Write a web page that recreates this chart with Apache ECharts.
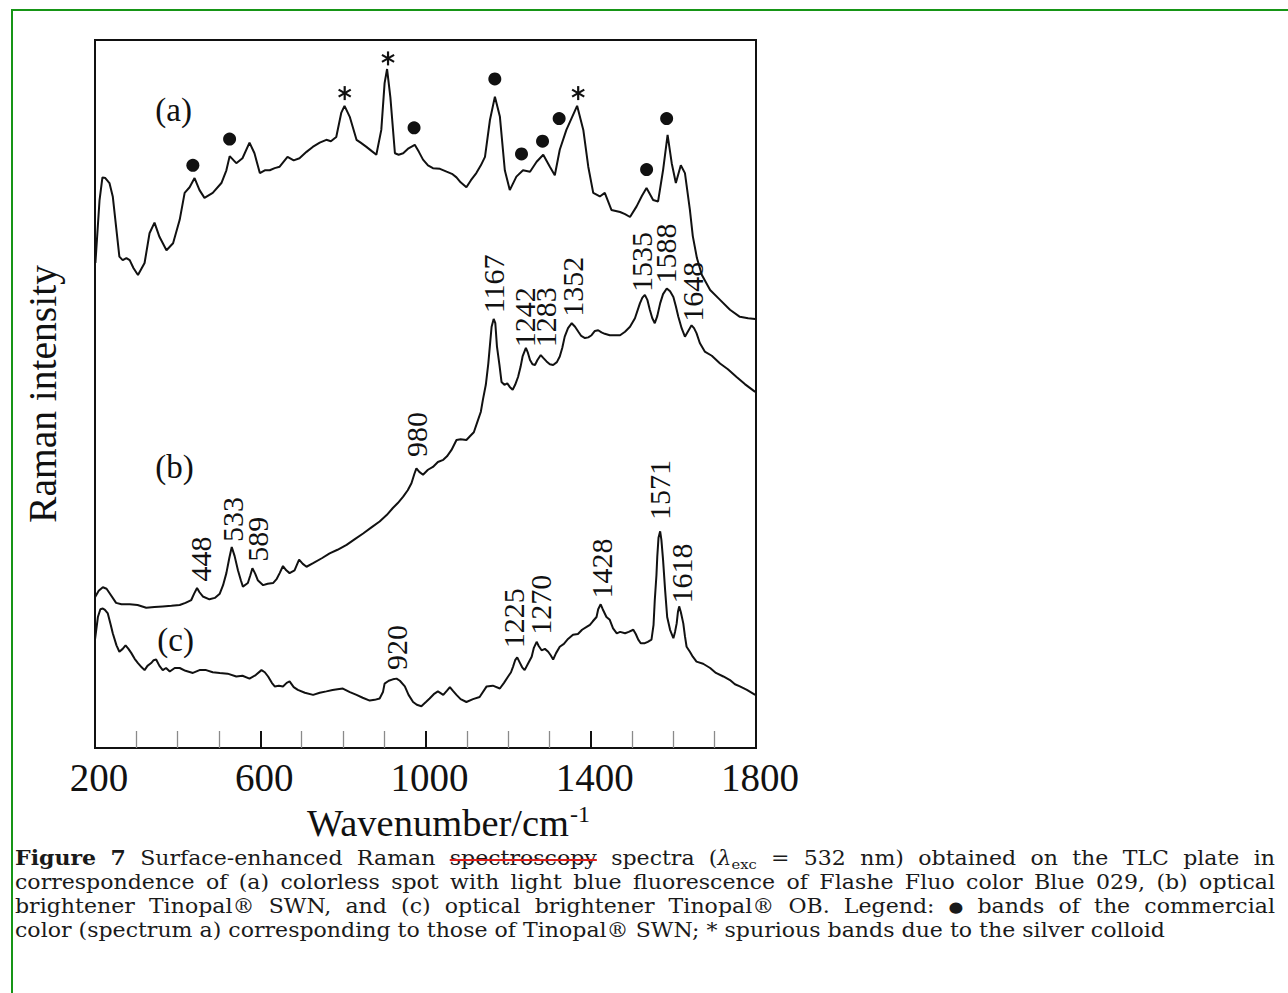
<!DOCTYPE html>
<html><head><meta charset="utf-8">
<script src="https://cdn.jsdelivr.net/npm/echarts@6/dist/echarts.min.js"></script>
<style>html,body{margin:0;padding:0;background:#fff}#c{width:1288px;height:993px}</style>
</head><body><div id="c"></div>
<script>
// ---------------- DATA ----------------
const xTicks = [200, 600, 1000, 1400, 1800];

// Spectrum (a): Flashe Fluo color Blue 029
const wnA = [201,211,218,225,235,243,259,267,276,284,293,304,320,332,344,356,373,389,405,417,429,441,453,465,485,506,518,526,542,557,574,586,599,611,623,635,647,666,681,695,712,727,744,760,771,784,796,804,817,833,843,857,870,881,893,901,907,915,926,935,946,959,974,984,994,1006,1018,1035,1051,1064,1075,1085,1099,1110,1123,1134,1144,1156,1168,1180,1192,1204,1220,1236,1253,1269,1285,1301,1313,1325,1341,1354,1367,1382,1394,1406,1422,1434,1450,1471,1483,1495,1511,1524,1535,1551,1563,1575,1586,1596,1606,1618,1628,1640,1647,1657,1669,1689,1713,1737,1761,1781,1798];
const intA = [68.5,77.4,80.6,80.5,79.8,77.9,69.4,68.9,69.2,68.9,67.8,66.8,68.5,72.7,74.2,72.2,70.3,71.3,74.6,78.4,79.2,80.5,78.8,77.7,78.4,79.8,81.6,83.6,82.6,83.3,85.5,84.0,81.2,81.6,81.6,81.9,82.1,83.5,83.0,83.3,84.2,84.9,85.5,85.9,85.7,86.3,89.7,90.7,89.1,85.9,85.5,84.9,84.3,83.8,87.3,93.9,95.9,91.9,84.0,83.8,84.0,84.7,85.2,84.2,83.1,82.3,81.9,81.8,81.4,81.1,80.6,79.9,79.2,80.2,81.2,82.3,83.5,88.7,92.0,89.2,81.6,78.8,80.7,81.6,81.4,82.8,83.8,82.1,80.9,84.5,87.3,89.0,90.7,87.3,82.1,78.4,77.9,78.4,76.0,75.7,75.4,75.0,76.5,78.0,79.1,77.4,77.2,81.6,86.6,82.6,79.8,82.3,81.2,76.0,72.3,69.2,66.8,64.7,63.3,61.9,60.9,60.7,60.6];

// Spectrum (b): Tinopal SWN
const wnB = [200,209,219,228,235,251,264,284,303,324,344,364,385,405,419,433,440,447,453,461,477,490,502,510,518,525,531,538,546,553,558,570,576,581,588,594,607,618,631,640,647,655,663,671,683,694,703,712,728,749,768,787,809,829,849,870,889,906,921,933,946,957,966,973,978,985,994,1006,1018,1030,1043,1052,1063,1075,1085,1099,1107,1117,1127,1134,1139,1146,1152,1156,1160,1165,1169,1173,1179,1184,1191,1198,1204,1211,1217,1224,1230,1235,1243,1248,1253,1259,1265,1271,1279,1285,1293,1301,1309,1318,1325,1331,1337,1345,1354,1362,1370,1377,1386,1394,1402,1410,1418,1426,1434,1446,1458,1471,1483,1495,1507,1519,1525,1531,1537,1543,1549,1555,1561,1568,1575,1584,1592,1600,1606,1612,1620,1628,1637,1644,1650,1656,1664,1676,1693,1713,1732,1753,1773,1798];
const intB = [21.3,22.2,22.7,22.5,21.9,20.5,20.3,20.3,20.2,19.8,19.9,20.0,20.1,20.2,20.5,20.9,21.8,22.6,22.0,21.4,21.0,21.2,21.8,23.0,24.7,26.8,28.4,27.1,25.1,23.7,22.8,23.3,24.4,25.4,24.6,23.7,23.0,23.2,23.3,23.9,24.7,25.7,25.1,24.7,25.1,26.6,26.0,25.6,26.1,26.8,27.5,28.0,28.7,29.5,30.3,31.2,32.0,32.9,33.9,34.6,35.5,36.4,37.4,38.7,39.5,39.0,38.6,39.3,39.7,40.4,40.7,41.2,42.1,43.5,43.6,43.5,44.0,44.6,46.3,47.5,49.2,51.3,54.3,56.9,59.5,60.6,60.0,56.7,54.1,51.7,51.3,51.5,51.0,50.6,51.3,52.4,53.8,55.3,56.5,55.8,54.8,54.2,54.1,54.8,55.5,55.1,54.6,54.2,54.1,54.5,55.3,56.5,58.1,59.3,60.0,59.5,58.8,58.2,57.9,58.0,58.3,58.9,59.0,58.7,58.5,58.3,58.3,58.3,58.8,59.5,60.7,62.8,63.6,64.0,63.3,61.9,60.7,60.0,61.0,62.8,64.1,64.9,64.5,63.7,62.4,60.9,59.3,58.1,59.0,59.7,59.3,58.6,57.2,56.0,55.4,54.3,53.5,52.4,51.4,50.3];

// Spectrum (c): Tinopal OB
const wnC = [200,207,213,219,224,231,238,243,252,259,267,274,281,288,296,304,313,320,327,336,342,348,356,364,372,381,393,405,419,437,453,469,485,502,521,542,557,574,589,603,611,619,628,635,645,655,664,671,681,691,708,728,744,760,775,787,800,817,833,848,865,877,889,897,901,911,921,930,938,950,959,970,979,990,1001,1010,1020,1030,1043,1052,1059,1066,1075,1085,1099,1115,1131,1148,1163,1180,1190,1200,1207,1212,1217,1222,1228,1234,1240,1248,1257,1262,1269,1274,1281,1289,1297,1303,1309,1316,1325,1335,1345,1357,1369,1379,1390,1398,1405,1414,1418,1424,1429,1438,1446,1454,1463,1471,1483,1492,1503,1509,1515,1521,1531,1538,1547,1552,1555,1559,1561,1564,1568,1571,1575,1580,1585,1592,1600,1604,1608,1611,1614,1618,1624,1628,1632,1640,1647,1656,1672,1689,1703,1721,1737,1749,1761,1778,1798];
const intC = [15.3,18.5,19.6,19.7,19.5,19.0,17.4,16.2,14.5,13.6,14.0,14.5,14.0,13.4,12.6,12.0,11.4,11.0,11.6,12.0,12.4,12.5,11.6,11.0,11.3,10.8,11.3,11.3,10.9,10.6,11.0,11.0,10.7,10.6,10.5,10.1,10.2,9.8,10.3,11.0,10.7,10.1,9.2,8.7,8.8,8.7,9.2,9.4,8.6,8.2,7.8,7.5,7.8,8.0,8.2,8.3,8.4,7.9,7.5,7.1,6.7,6.8,7.0,7.9,9.1,9.5,9.7,9.8,9.5,8.7,7.5,6.5,6.1,5.9,6.5,7.0,7.6,8.0,7.5,8.1,8.6,8.1,7.5,6.9,6.5,6.9,7.2,8.7,8.8,8.4,9.2,10.1,10.7,11.5,12.4,12.8,12.1,11.4,11.0,11.9,12.9,14.1,15.0,14.4,13.8,14.0,13.6,13.1,12.5,13.4,14.3,14.7,15.4,16.0,16.1,16.7,17.1,17.4,17.9,18.5,19.6,20.3,19.6,18.5,18.1,16.9,16.2,16.4,16.2,16.4,16.7,16.1,15.3,14.8,14.8,15.0,15.3,17.4,20.9,24.4,27.0,29.7,30.6,29.4,26.6,22.3,18.5,16.7,15.5,16.4,17.6,19.2,20.0,19.2,17.6,15.8,14.3,13.6,12.9,12.2,11.9,11.3,10.6,10.1,9.6,9.0,8.7,8.2,7.5];

// Band labels [wavenumber, intensity at label foot, text]
const labelsB = [[455.6,23.5,'448'],[531.9,29.1,'533'],[592.4,26.3,'589'],[977.6,41.1,'980'],[1163.6,61.4,'1167'],[1240.4,56.6,'1242'],[1291.3,56.6,'1283'],[1355.5,60.9,'1352'],[1523.1,64.4,'1535'],[1582.0,65.6,'1588'],[1646.2,60.2,'1648']];
const labelsC = [[929.1,11.0,'920'],[1212.1,14.1,'1225'],[1279.2,16.0,'1270'],[1425.3,21.1,'1428'],[1567.5,32.2,'1571'],[1618.6,20.4,'1618']];
// Markers over spectrum (a)
const dotsA = [[436.9,82.3],[525.8,86.0],[972.3,87.6],[1167.8,94.5],[1232.4,83.9],[1283.3,85.7],[1323.5,88.9],[1535.2,81.7],[1583.7,88.9]];
const starsA = [[804.4,92.5],[909.3,97.4],[1369.6,92.5]];
const curveTags = [[390.2,90.1,'(a)'],[392.6,39.7,'(b)'],[395,15.3,'(c)']];

const captionLines = [
  [{t:'Figure 7', b:true}, {t:' Surface-enhanced Raman '}, {t:'spectroscopy', s:true}, {t:' spectra ('}, {t:'\u03bb', i:true}, {t:'exc', sub:true}, {t:' = 532 nm) obtained on the TLC plate in'}],
  [{t:'correspondence of (a) colorless spot with light blue fluorescence of Flashe Fluo color Blue 029, (b) optical'}],
  [{t:'brightener Tinopal\u00ae SWN, and (c) optical brightener Tinopal\u00ae OB. Legend: '}, {t:'\u25cf', sm:true}, {t:' bands of the commercial'}],
  [{t:'color (spectrum a) corresponding to those of Tinopal\u00ae SWN; * spurious bands due to the silver colloid'}]
];

// ---------------- CHART ----------------
const SERIF = 'Liberation Serif';
const INK = '#111';
const zip = (xs, ys) => xs.map((x, i) => [x, ys[i]]);

const chart = echarts.init(document.getElementById('c'), null, {renderer: 'svg', width: 1288, height: 993});

function lineSeries(data) {
  return {type: 'line', data, showSymbol: false, symbol: 'none', silent: true,
    lineStyle: {color: INK, width: 2}, z: 3, animation: false};
}
function textSeries(items, opts) {
  return {type: 'scatter', silent: true, animation: false, z: 5, symbolSize: 1,
    itemStyle: {color: 'rgba(0,0,0,0)', opacity: 1},
    data: items.map(d => ({value: [d[0], d[1]], name: d[2]})),
    label: Object.assign({show: true, formatter: '{b}', color: INK, opacity: 1, fontFamily: SERIF, position: 'inside'}, opts)};
}
function starSeries(rot) {
  return {type: 'scatter', silent: true, animation: false, z: 5, symbol: 'rect', symbolSize: [2.2, 14],
    symbolRotate: rot, itemStyle: {color: INK, opacity: 1}, data: starsA};
}

// ----- caption layout -----
const CAP_FONT = 'DejaVu Serif';
const CAP_FS = 19.5;
const ctx = document.createElement('canvas').getContext('2d');
function pieceFont(p, fs) {
  const size = p.sub ? Math.round(fs * 0.66) : (p.sm ? Math.round(fs * 0.78) : fs);
  return {size, weight: p.b ? 'bold' : 'normal', style: p.i ? 'italic' : 'normal'};
}
function tw(p, fs) { const f = pieceFont(p, fs); ctx.font = f.style + ' ' + f.weight + ' ' + f.size + 'px "' + CAP_FONT + '"'; return ctx.measureText(p.t).width; }
function tokenize(line) {
  const words = [[]];
  line.forEach(seg => seg.t.split(' ').forEach((part, i) => {
    if (i > 0) words.push([]);
    if (part) words[words.length - 1].push(Object.assign({}, seg, {t: part}));
  }));
  return words.filter(w => w.length);
}
const CAP_X = 15, CAP_W = 1260, CAP_Y0 = 858, CAP_LH = 24.3, LAST_W = 1150;
let sx = 1;
{
  const w = tokenize(captionLines[3]);
  const tot = w.reduce((s, wd) => s + wd.reduce((a, p) => a + tw(p, CAP_FS), 0), 0) + (w.length - 1) * tw({t: ' '}, CAP_FS);
  sx = Math.min(1.15, Math.max(0.7, LAST_W / tot));
}
const captionEls = [];
captionLines.forEach((line, li) => {
  const words = tokenize(line);
  const widths = words.map(w => w.reduce((s, p) => s + tw(p, CAP_FS) * sx, 0));
  const total = widths.reduce((a, b) => a + b, 0);
  const sp = li < 3 ? (CAP_W - total) / (words.length - 1) : tw({t: ' '}, CAP_FS) * sx;
  let x = CAP_X;
  const y = CAP_Y0 + li * CAP_LH;
  words.forEach(w => {
    w.forEach(p => {
      const f = pieceFont(p, CAP_FS);
      const pw = tw(p, CAP_FS) * sx;
      captionEls.push({type: 'text', x: x, y: y + (p.sub ? CAP_FS * 0.32 : 0), scaleX: sx, silent: true,
        style: {text: p.t, fontSize: f.size, fontWeight: f.weight, fontStyle: f.style, fontFamily: CAP_FONT,
          fill: '#1a1a1a', align: 'left', textAlign: 'left', verticalAlign: 'middle', textVerticalAlign: 'middle'}});
      if (p.s) captionEls.push({type: 'line', silent: true, shape: {x1: x, y1: y + 2, x2: x + pw, y2: y + 2}, style: {stroke: '#e01b1b', lineWidth: 2}});
      x += pw;
    });
    x += sp;
  });
});

const option = {
  animation: false,
  backgroundColor: '#fff',
  grid: {left: 95, right: 532, top: 40, bottom: 245, show: true, borderColor: INK, borderWidth: 2, containLabel: false},
  xAxis: {
    type: 'value', min: xTicks[0], max: xTicks[xTicks.length - 1], interval: xTicks[1] - xTicks[0],
    axisLine: {show: true, lineStyle: {color: INK, width: 2}},
    axisTick: {show: true, inside: true, length: 17, lineStyle: {color: INK, width: 2}},
    minorTick: {show: true, splitNumber: 4, length: 17, lineStyle: {color: '#8a8a8a', width: 1.3}},
    splitLine: {show: false}, minorSplitLine: {show: false},
    axisLabel: {show: true, fontFamily: SERIF, fontSize: 39, color: INK, margin: 10, padding: [0, 0, 0, 8],
      formatter: v => String(v), showMinLabel: true, showMaxLabel: true},
    name: 'Wavenumber/cm{sup|-1}', nameLocation: 'middle', nameGap: 52,
    nameTextStyle: {fontFamily: SERIF, fontSize: 38.5, color: INK, padding: [0, 0, 0, 46],
      rich: {sup: {fontFamily: SERIF, fontSize: 24, color: INK, verticalAlign: 'top', padding: [0, 0, 18, 1]}}}
  },
  yAxis: {
    type: 'value', min: 0, max: 100,
    axisLine: {show: true, lineStyle: {color: INK, width: 2}},
    axisTick: {show: false}, axisLabel: {show: false}, splitLine: {show: false},
    name: 'Raman intensity', nameLocation: 'middle', nameGap: 32,
    nameTextStyle: {fontFamily: SERIF, fontSize: 39.5, color: INK}
  },
  series: [
    lineSeries(zip(wnA, intA)),
    lineSeries(zip(wnB, intB)),
    lineSeries(zip(wnC, intC)),
    {type: 'scatter', silent: true, animation: false, z: 4, symbol: 'circle', symbolSize: 13,
      itemStyle: {color: INK, opacity: 1}, data: dotsA},
    starSeries(0), starSeries(60), starSeries(-60),
    textSeries(labelsB, {fontSize: 30, rotate: 90, align: 'left', verticalAlign: 'middle'}),
    textSeries(labelsC, {fontSize: 30, rotate: 90, align: 'left', verticalAlign: 'middle'}),
    textSeries(curveTags, {fontSize: 33, align: 'center', verticalAlign: 'middle'})
  ],
  graphic: [
    {type: 'line', silent: true, shape: {x1: 12, y1: 10, x2: 12, y2: 993}, style: {stroke: '#169516', lineWidth: 2}},
    {type: 'line', silent: true, shape: {x1: 11, y1: 10, x2: 1288, y2: 10}, style: {stroke: '#169516', lineWidth: 2}}
  ].concat(captionEls)
};
chart.setOption(option);
</script>
</body></html>
